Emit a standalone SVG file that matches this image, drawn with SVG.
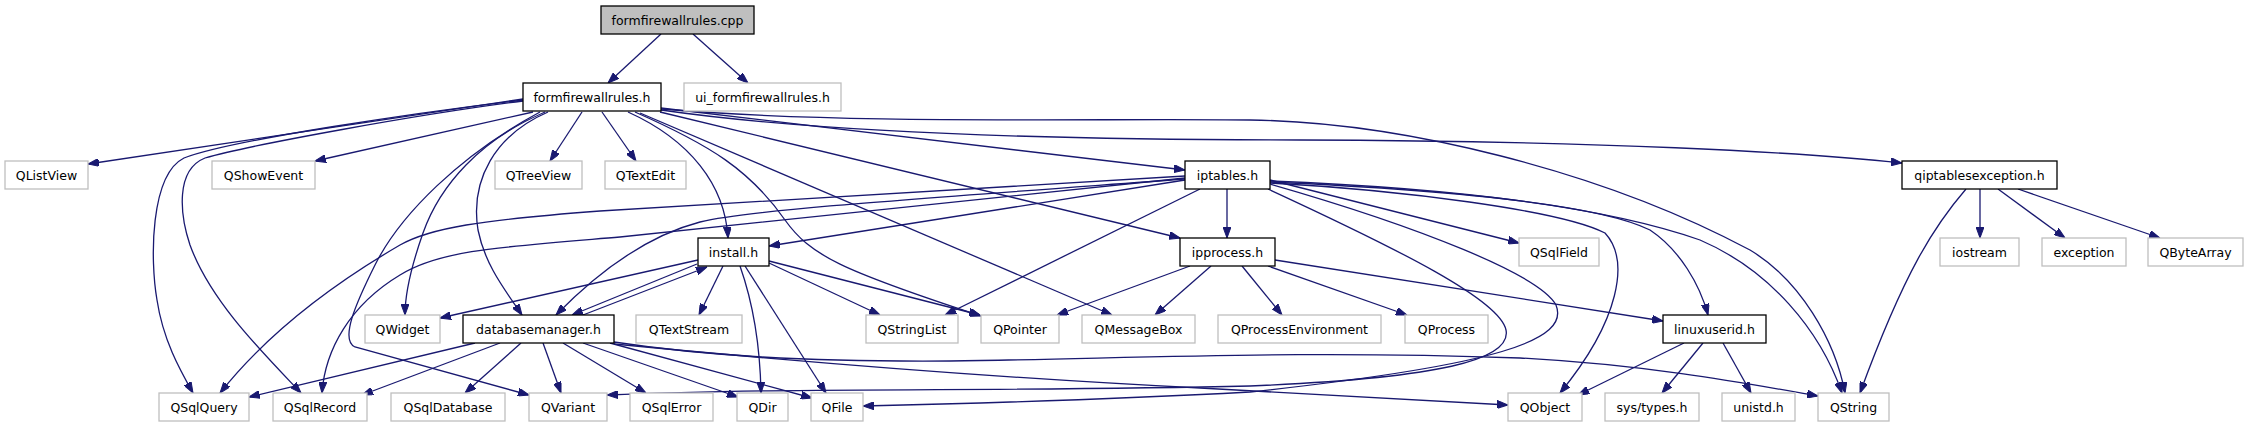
<svg xmlns="http://www.w3.org/2000/svg" width="2248" height="427" viewBox="0 0 2248 427">
<style>
rect{fill:#ffffff;stroke:#bfbfbf;stroke-width:1.3}
.d rect{stroke:#000000}
.r rect{fill:#bfbfbf;stroke:#000000}
text{font-family:"DejaVu Sans","Liberation Sans",sans-serif;font-size:12.5px;fill:#000000;text-anchor:middle}
#edges path{fill:none;stroke:#191970;stroke-width:1.3;marker-end:url(#a)}
</style>
<defs>
<marker id="a" viewBox="0 0 11 8" markerWidth="11" markerHeight="8" refX="11" refY="4" orient="auto" markerUnits="userSpaceOnUse"><path d="M0,0 L11,4 L0,8 z" fill="#191970" stroke="#191970" stroke-width="1"/></marker>
</defs>
<rect x="0" y="0" width="2248" height="427" style="fill:#ffffff;stroke:none"/>
<g id="edges">
<path d="M661,34 L608,83"/>
<path d="M693,34 L748,83"/>
<path d="M523,99 L88,164"/>
<path d="M523,100 C420,112 230,140 184,158 C150,175 150,260 157,300 C163,340 180,370 193,393"/>
<path d="M523,101 C420,114 250,145 205,158 C175,170 180,215 190,245 C210,300 260,350 301,393"/>
<path d="M533,112 L315,161"/>
<path d="M540,112 C460,155 400,215 375,265 C355,305 340,340 355,347 L529,395"/>
<path d="M545,112 C480,140 440,185 423,233 C410,270 405,295 405,315"/>
<path d="M548,112 C495,135 470,180 478,230 C485,265 505,290 522,315"/>
<path d="M582,112 L550,161"/>
<path d="M602,112 L636,161"/>
<path d="M628,112 C690,140 725,185 728,238"/>
<path d="M635,112 C710,145 750,170 785,220 C810,255 840,270 981,316"/>
<path d="M640,113 L1112,315"/>
<path d="M660,112 L1180,238"/>
<path d="M661,108 L1185,170"/>
<path d="M661,110 C800,130 1000,140 1300,140 C1600,141 1800,152 1902,163"/>
<path d="M661,109 C850,125 1100,118 1250,120 C1400,122 1600,170 1750,250 C1800,280 1835,340 1845,393"/>
<path d="M1227,189 L1227,238"/>
<path d="M1270,180 L1519,243"/>
<path d="M1185,180 L769,246"/>
<path d="M1185,176 L600,211 C480,220 430,228 400,245 C340,280 270,330 220,393"/>
<path d="M1185,178 L620,237 C500,247 440,250 400,275 C350,305 325,350 322,393"/>
<path d="M1185,179 C900,200 750,210 700,222 C650,235 600,270 556,315"/>
<path d="M1200,189 L945,315"/>
<path d="M1268,189 C1400,250 1500,300 1506,330 C1512,360 1440,378 1250,386 C1000,392 800,387 607,395"/>
<path d="M1270,184 C1420,227 1540,275 1556,305 C1570,340 1500,365 1250,392 C1100,400 950,404 863,406"/>
<path d="M1270,183 C1400,190 1560,210 1605,233 C1630,260 1620,320 1560,393"/>
<path d="M1270,182 C1450,190 1600,205 1650,230 C1680,250 1700,285 1708,315"/>
<path d="M1270,181 C1450,188 1600,205 1700,240 C1770,270 1820,330 1842,393"/>
<path d="M698,260 L440,318"/>
<path d="M697,264 L572,315"/>
<path d="M583,315 L707,267"/>
<path d="M723,266 L699,315"/>
<path d="M740,266 C752,300 760,340 761,393"/>
<path d="M745,266 L826,393"/>
<path d="M769,263 L880,315"/>
<path d="M769,261 L980,315"/>
<path d="M475,343 L249,397"/>
<path d="M500,343 L362,395"/>
<path d="M521,343 L465,393"/>
<path d="M543,343 L561,393"/>
<path d="M563,343 L646,393"/>
<path d="M583,343 L738,397"/>
<path d="M610,343 L812,398"/>
<path d="M614,342 C700,355 800,362 950,361 C1150,358 1300,350 1520,358 C1650,365 1750,384 1818,396"/>
<path d="M614,344 C800,362 1000,378 1200,388 C1350,396 1450,402 1508,405"/>
<path d="M1190,266 L1057,315"/>
<path d="M1211,266 L1155,315"/>
<path d="M1242,266 L1282,315"/>
<path d="M1268,266 L1407,315"/>
<path d="M1275,260 L1663,321"/>
<path d="M1684,343 L1578,395"/>
<path d="M1703,343 L1662,393"/>
<path d="M1723,343 L1751,393"/>
<path d="M1966,189 C1935,225 1905,270 1860,393"/>
<path d="M1980,189 L1980,238"/>
<path d="M1998,189 L2065,238"/>
<path d="M2018,189 L2160,238"/>
</g>
<g id="n_cpp" class="r"><rect x="601" y="6" width="153" height="28"/><text x="677.5" y="24.5">formfirewallrules.cpp</text></g>
<g id="n_ffh" class="d"><rect x="523" y="83" width="138" height="28"/><text x="592" y="101.5">formfirewallrules.h</text></g>
<g id="n_ui"><rect x="684" y="83" width="157" height="28"/><text x="762.5" y="101.5">ui_formfirewallrules.h</text></g>
<g id="n_qlistview"><rect x="5" y="161" width="83" height="28"/><text x="46.5" y="179.5">QListView</text></g>
<g id="n_qshowevent"><rect x="212" y="161" width="103" height="28"/><text x="263.5" y="179.5">QShowEvent</text></g>
<g id="n_qtreeview"><rect x="495" y="161" width="87" height="28"/><text x="538.5" y="179.5">QTreeView</text></g>
<g id="n_qtextedit"><rect x="605" y="161" width="81" height="28"/><text x="645.5" y="179.5">QTextEdit</text></g>
<g id="n_iptables" class="d"><rect x="1185" y="161" width="85" height="28"/><text x="1227.5" y="179.5">iptables.h</text></g>
<g id="n_qiptexc" class="d"><rect x="1902" y="161" width="155" height="28"/><text x="1979.5" y="179.5">qiptablesexception.h</text></g>
<g id="n_install" class="d"><rect x="698" y="238" width="71" height="28"/><text x="733.5" y="256.5">install.h</text></g>
<g id="n_ipprocess" class="d"><rect x="1180" y="238" width="95" height="28"/><text x="1227.5" y="256.5">ipprocess.h</text></g>
<g id="n_qsqlfield"><rect x="1519" y="238" width="80" height="28"/><text x="1559" y="256.5">QSqlField</text></g>
<g id="n_iostream"><rect x="1940" y="238" width="79" height="28"/><text x="1979.5" y="256.5">iostream</text></g>
<g id="n_exception"><rect x="2042" y="238" width="84" height="28"/><text x="2084" y="256.5">exception</text></g>
<g id="n_qbytearray"><rect x="2148" y="238" width="95" height="28"/><text x="2195.5" y="256.5">QByteArray</text></g>
<g id="n_qwidget"><rect x="365" y="315" width="75" height="28"/><text x="402.5" y="333.5">QWidget</text></g>
<g id="n_dbm" class="d"><rect x="463" y="315" width="151" height="28"/><text x="538.5" y="333.5">databasemanager.h</text></g>
<g id="n_qtextstream"><rect x="636" y="315" width="106" height="28"/><text x="689" y="333.5">QTextStream</text></g>
<g id="n_qstringlist"><rect x="866" y="315" width="92" height="28"/><text x="912" y="333.5">QStringList</text></g>
<g id="n_qpointer"><rect x="981" y="315" width="78" height="28"/><text x="1020" y="333.5">QPointer</text></g>
<g id="n_qmessagebox"><rect x="1082" y="315" width="113" height="28"/><text x="1138.5" y="333.5">QMessageBox</text></g>
<g id="n_qprocenv"><rect x="1218" y="315" width="163" height="28"/><text x="1299.5" y="333.5">QProcessEnvironment</text></g>
<g id="n_qprocess"><rect x="1405" y="315" width="83" height="28"/><text x="1446.5" y="333.5">QProcess</text></g>
<g id="n_linuxuserid" class="d"><rect x="1663" y="315" width="103" height="28"/><text x="1714.5" y="333.5">linuxuserid.h</text></g>
<g id="n_qsqlquery"><rect x="159" y="393" width="90" height="28"/><text x="204" y="411.5">QSqlQuery</text></g>
<g id="n_qsqlrecord"><rect x="273" y="393" width="94" height="28"/><text x="320" y="411.5">QSqlRecord</text></g>
<g id="n_qsqldatabase"><rect x="391" y="393" width="114" height="28"/><text x="448" y="411.5">QSqlDatabase</text></g>
<g id="n_qvariant"><rect x="529" y="393" width="78" height="28"/><text x="568" y="411.5">QVariant</text></g>
<g id="n_qsqlerror"><rect x="630" y="393" width="83" height="28"/><text x="671.5" y="411.5">QSqlError</text></g>
<g id="n_qdir"><rect x="737" y="393" width="51" height="28"/><text x="762.5" y="411.5">QDir</text></g>
<g id="n_qfile"><rect x="811" y="393" width="52" height="28"/><text x="837" y="411.5">QFile</text></g>
<g id="n_qobject"><rect x="1508" y="393" width="74" height="28"/><text x="1545" y="411.5">QObject</text></g>
<g id="n_systypes"><rect x="1605" y="393" width="94" height="28"/><text x="1652" y="411.5">sys/types.h</text></g>
<g id="n_unistd"><rect x="1722" y="393" width="73" height="28"/><text x="1758.5" y="411.5">unistd.h</text></g>
<g id="n_qstring"><rect x="1818" y="393" width="71" height="28"/><text x="1853.5" y="411.5">QString</text></g>
</svg>
